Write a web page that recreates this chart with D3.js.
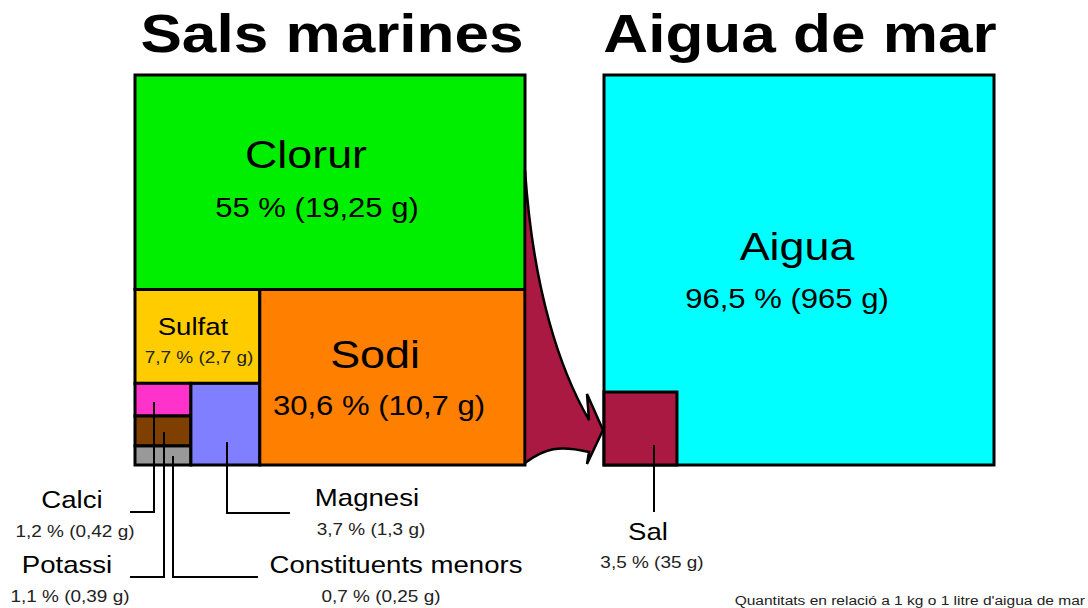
<!DOCTYPE html>
<html lang="ca">
<head>
<meta charset="utf-8">
<script src="https://cdn.jsdelivr.net/npm/d3@7"></script>
<style>
  body { margin: 0; background: #fff; }
  text { font-family: "Liberation Sans", Arial, sans-serif; }
</style>
</head>
<body>
<script>
// dades: sals marines (percentatge de la sal, grams per kg d'aigua)
var saltNames  = ["Clorur", "Sodi", "Sulfat", "Magnesi", "Calci", "Potassi", "Constituents menors"];
var saltPct    = [55, 30.6, 7.7, 3.7, 1.2, 1.1, 0.7];
var saltGrams  = [19.25, 10.7, 2.7, 1.3, 0.42, 0.39, 0.25];

// dades: aigua de mar
var waterNames = ["Aigua", "Sal"];
var waterPct   = [96.5, 3.5];
var waterGrams = [965, 35];

var titles   = ["Sals marines", "Aigua de mar"];
var footnote = "Quantitats en relació a 1 kg o 1 litre d'aigua de mar";

// estils
var colors = {
  "Clorur": "#00ee00", "Sodi": "#ff7f00", "Sulfat": "#ffcc00", "Magnesi": "#7f7fff",
  "Calci": "#ff33cc", "Potassi": "#7f3f00", "Constituents menors": "#999999",
  "Aigua": "#00ffff", "Sal": "#aa1941"
};

var W = 1088, H = 608;
var side = 390;
var leftBox  = {x: 135, y: 75};
var rightBox = {x: 604, y: 75};
var sx = 1.15; // el text original és una mica eixamplat

var svg = d3.select("body").append("svg")
  .attr("width", W).attr("height", H);

var ca = d3.formatLocale({decimal: ",", thousands: ".", grouping: [3], currency: ["", " €"]});
var fmt = ca.format("~g");
function valueLabel(p, g) { return fmt(p) + " % (" + fmt(g) + " g)"; }

// ---------- jerarquia de les sals (talls alterns) ----------
var leaf = function (i) { return {name: saltNames[i], value: saltPct[i], grams: saltGrams[i]}; };
var tree = {children: [
  leaf(0),
  {children: [
    {children: [
      leaf(2),
      {children: [
        {children: [leaf(4), leaf(5), leaf(6)]},
        leaf(3)
      ]}
    ]},
    leaf(1)
  ]}
]};

var root = d3.hierarchy(tree).sum(function (d) { return d.value || 0; });
d3.treemap()
  .size([side, side])
  .tile(function (node, x0, y0, x1, y1) {
    (node.depth % 2 === 0 ? d3.treemapSlice : d3.treemapDice)(node, x0, y0, x1, y1);
  })(root);

var leftG = svg.append("g").attr("transform", "translate(" + leftBox.x + "," + leftBox.y + ")");

// ---------- fletxa ----------
var L = leftBox.x + side, B = leftBox.y + side, R = rightBox.x;
svg.append("path")
  .attr("d", "M" + L + ",170 C" + (L + 8) + ",290 " + (L + 35) + ",370 " + (R - 15) + ",420" +
             " L" + (R - 17) + ",394 L" + (R - 1) + ",430 L" + (R - 17) + "," + (B - 1) +
             " L" + (R - 15) + ",452 C" + (R - 45) + ",445 " + (L + 20) + ",448 " + L + "," + (B - 2) + " Z")
  .attr("fill", colors["Sal"])
  .attr("stroke", "#000")
  .attr("stroke-width", 2.5)
  .attr("stroke-linejoin", "miter");

leftG.selectAll("rect.leaf")
  .data(root.leaves())
  .enter().append("rect")
  .attr("class", "leaf")
  .attr("x", function (d) { return d.x0; })
  .attr("y", function (d) { return d.y0; })
  .attr("width", function (d) { return d.x1 - d.x0; })
  .attr("height", function (d) { return d.y1 - d.y0; })
  .attr("fill", function (d) { return colors[d.data.name]; })
  .attr("stroke", "#000")
  .attr("stroke-width", 3);

// ---------- aigua de mar ----------
var sideScale = d3.scaleSqrt().domain([0, 100]).range([0, side]);
var rightG = svg.append("g").attr("transform", "translate(" + rightBox.x + "," + rightBox.y + ")");
rightG.selectAll("rect")
  .data(waterNames)
  .enter().append("rect")
  .attr("x", 0)
  .attr("y", function (d, i) { return i === 0 ? 0 : side - sideScale(waterPct[i]); })
  .attr("width", function (d, i) { return i === 0 ? side : sideScale(waterPct[i]); })
  .attr("height", function (d, i) { return i === 0 ? side : sideScale(waterPct[i]); })
  .attr("fill", function (d) { return colors[d]; })
  .attr("stroke", "#000")
  .attr("stroke-width", 3);

// ---------- línies guia ----------
var leaders = [
  "M154,402 V512 H130",
  "M164,432 V577 H130",
  "M173,456 V577 H258",
  "M227,442 V513 H290",
  "M654,445 V512"
];
svg.selectAll("path.leader")
  .data(leaders)
  .enter().append("path")
  .attr("class", "leader")
  .attr("d", function (d) { return d; })
  .attr("fill", "none")
  .attr("stroke", "#000")
  .attr("stroke-width", 2);

// ---------- textos ----------
function label(x, y, str, size, opts) {
  opts = opts || {};
  svg.append("text")
    .attr("transform", "translate(" + x + "," + y + ") scale(" + sx + ",1)")
    .attr("text-anchor", opts.anchor || "middle")
    .attr("font-size", size)
    .attr("font-weight", opts.bold ? "bold" : "normal")
    .attr("fill", opts.fill || "#000")
    .text(str);
}

label(332, 52, titles[0], 54, {bold: true});
label(800, 52, titles[1], 54, {bold: true});

// posició dels rètols: [x, y nom, y valor, mida nom, mida valor, x valor]
var labelPos = {
  "Clorur":  [306, 168, 217, 39, 27, 317],
  "Sodi":    [375, 368, 415, 39, 27, 379],
  "Sulfat":  [193, 335, 363, 24, 16.5, 199],
  "Magnesi": [367, 506, 535, 24, 16.5, 371],
  "Calci":   [72, 508, 537, 24, 16.5, 75],
  "Potassi": [67, 573, 602, 24, 16.5, 70],
  "Constituents menors": [396, 573, 602, 24, 16.5, 381],
  "Aigua":   [797, 260, 308, 39, 27, 787],
  "Sal":     [648, 540, 568, 24, 16.5, 652]
};

saltNames.forEach(function (n, i) {
  var p = labelPos[n];
  label(p[0], p[1], n, p[3]);
  label(p[5], p[2], valueLabel(saltPct[i], saltGrams[i]), p[4], {fill: p[4] < 20 ? "#222" : "#000"});
});
waterNames.forEach(function (n, i) {
  var p = labelPos[n];
  label(p[0], p[1], n, p[3]);
  label(p[5], p[2], valueLabel(waterPct[i], waterGrams[i]), p[4], {fill: p[4] < 20 ? "#222" : "#000"});
});

label(1085, 605, footnote, 13.5, {anchor: "end", fill: "#222"});
</script>
</body>
</html>
